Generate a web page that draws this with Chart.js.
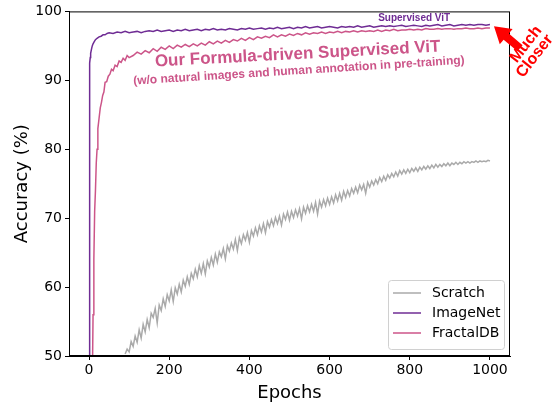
<!DOCTYPE html>
<html>
<head>
<meta charset="utf-8">
<script src="https://cdn.jsdelivr.net/npm/chart.js@4.4.1/dist/chart.umd.min.js"></script>
<style>
  body { margin: 0; background: #fff; }
  #wrap { width: 554px; height: 406px; }
</style>
</head>
<body>
<div id="wrap"><canvas id="accChart" width="554" height="406"></canvas></div>
<script>
// ---- data ----
const xTicks = [0, 200, 400, 600, 800, 1000];
const yTicks = [50, 60, 70, 80, 90, 100];

function range(start, end, step) {
    const out = [];
    for (let v = start; v <= end; v += step) out.push(v);
    return out;
}

// Scratch: epochs 90..1000 every 5
const scratchEpochs = range(90, 1000, 5);
const scratchAcc = [
    50.3, 51.0, 50.6, 52.1, 51.4, 52.9, 52.0, 53.8, 52.6, 54.6,
    53.5, 55.3, 54.1, 56.2, 55.6, 56.9, 54.8, 57.4, 56.6, 58.3,
    57.2, 58.9, 58.0, 59.6, 57.9, 59.9, 59.0, 60.4, 59.3, 61.0,
    60.1, 61.5, 60.4, 62.0, 61.2, 62.6, 61.5, 63.1, 62.0, 63.4,
    61.9, 63.8, 62.9, 64.3, 63.2, 64.8, 63.6, 65.1, 64.4, 65.6,
    64.1, 66.0, 65.2, 66.4, 65.5, 66.9, 65.3, 67.2, 66.3, 67.6,
    66.8, 67.9, 66.5, 68.2, 67.4, 68.6, 67.6, 68.9, 68.0, 69.2,
    67.9, 69.5, 68.7, 69.8, 68.9, 70.1, 69.2, 70.3, 69.0, 70.6,
    69.8, 70.9, 69.7, 71.0, 70.1, 71.2, 70.3, 71.4, 69.9, 71.6,
    70.7, 71.8, 70.9, 72.0, 71.0, 72.3, 70.6, 72.5, 71.6, 72.7,
    71.8, 72.9, 72.0, 73.1, 72.2, 73.4, 72.5, 73.6, 72.6, 73.9,
    73.0, 74.0, 73.2, 74.3, 73.6, 74.5, 73.7, 74.8, 74.1, 74.9,
    73.6, 75.2, 74.5, 75.4, 74.8, 75.6, 75.0, 75.9, 75.3, 76.1,
    75.5, 76.3, 75.8, 76.5, 76.0, 76.7, 76.1, 76.9, 76.4, 77.0,
    76.5, 77.1, 76.6, 77.2, 76.8, 77.3, 76.8, 77.4, 77.0, 77.5,
    77.1, 77.6, 77.2, 77.7, 77.3, 77.8, 77.4, 77.8, 77.5, 77.9,
    77.6, 78.0, 77.6, 78.0, 77.8, 78.1, 77.8, 78.1, 77.9, 78.2,
    78.0, 78.2, 78.0, 78.2, 78.1, 78.3, 78.1, 78.3, 78.2, 78.3,
    78.2, 78.4, 78.3
];

// ImageNet pre-training: fast start, then every 10 epochs
const imagenetEpochs = [0, 1, 2, 3, 4, 6, 8, 10, 13, 16, 20, 25, 30, 35, 40, 45].concat(range(50, 1000, 10));
const imagenetAcc = [
    40.0, 85.0, 92.5, 93.3, 93.9, 94.5, 95.0, 95.3, 95.6, 95.9, 96.1, 96.3, 96.4, 96.6, 96.6, 96.8,
    96.9, 96.8, 97.0, 96.9, 97.1, 96.9, 97.0, 97.1, 96.9, 97.1,
    97.2, 97.1, 97.3, 97.1, 97.2, 97.3, 97.1, 97.3, 97.2, 97.4,
    97.2, 97.3, 97.4, 97.2, 97.4, 97.3, 97.5, 97.3, 97.4, 97.3,
    97.5, 97.4, 97.3, 97.5, 97.4, 97.6, 97.4, 97.5, 97.6, 97.4,
    97.6, 97.5, 97.7, 97.5, 97.6, 97.7, 97.5, 97.7, 97.6, 97.8,
    97.6, 97.7, 97.8, 97.6, 97.7, 97.8, 97.7, 97.6, 97.8, 97.7,
    97.8, 97.7, 97.9, 97.7, 97.8, 97.9, 97.7, 97.8, 97.9, 97.8,
    97.9, 97.8, 97.9, 98.0, 97.8, 97.9, 98.0, 97.9, 97.8, 98.0,
    97.9, 98.0, 98.1, 97.9, 98.0, 98.1, 97.9, 98.0, 98.1, 98.0,
    98.1, 98.0, 98.1, 98.1, 98.0, 98.1
];

// FractalDB pre-training
const fractalEpochs = [8, 10, 12, 14, 16, 18, 20, 22, 25, 28, 31, 34, 37, 40, 44, 48, 52, 56, 60, 65, 70, 75, 80, 85, 90, 95, 100].concat(range(110, 1000, 10));
const fractalAcc = [
    45.0, 56.0, 64.0, 71.0, 74.0, 78.0, 80.0, 83.0, 84.5, 86.0, 86.8, 87.8, 88.3, 89.7, 89.8,
    90.6, 90.9, 91.6, 91.4, 92.2, 92.0, 92.8, 92.6, 93.2, 92.9, 93.6, 93.3,
    93.6, 94.1, 93.8, 94.3, 94.0, 94.6, 94.2, 94.8, 94.5, 95.0,
    94.6, 95.1, 94.8, 95.2, 94.9, 95.3, 95.0, 95.4, 95.1, 95.6,
    95.3, 95.7, 95.4, 95.8, 95.5, 95.9, 95.7, 96.1, 95.8, 96.2,
    95.9, 96.3, 96.1, 96.4, 96.2, 96.6, 96.3, 96.6, 96.4, 96.7,
    96.5, 96.8, 96.6, 96.9, 96.7, 96.9, 96.8, 97.0, 96.8, 97.0,
    96.9, 97.1, 96.9, 97.1, 97.0, 97.2, 97.0, 97.2, 97.1, 97.2,
    97.1, 97.3, 97.1, 97.3, 97.2, 97.4, 97.2, 97.3, 97.3, 97.4,
    97.3, 97.4, 97.3, 97.5, 97.4, 97.4, 97.5, 97.4, 97.5, 97.5,
    97.4, 97.5, 97.5, 97.6, 97.5, 97.5, 97.6, 97.5, 97.6, 97.6
];

const GRAY = '#aaaaaa';
const PURPLE = '#6f2c94';
const PINK = '#cc5589';
const TICK_FONT = { family: 'DejaVu Sans', size: 14 };

const toPoints = (xs, ys) => xs.map((x, i) => ({ x: x, y: ys[i] }));

// box round the axes + legend in the lower right
const framePlugin = {
    id: 'frame',
    afterDatasetsDraw(chart) {
        const { ctx, chartArea: a } = chart;
        ctx.save();
        ctx.strokeStyle = '#000';
        ctx.lineWidth = 1;
        ctx.strokeRect(a.left + 0.5, a.top + 0.5, a.right - a.left - 1, a.bottom - a.top - 1);

        // legend
        const w = 116, h = 69;
        const bx = a.right - 6 - w, by = a.bottom - 7 - h;
        ctx.fillStyle = 'rgba(255,255,255,0.8)';
        ctx.strokeStyle = '#d0d0d0';
        ctx.beginPath();
        ctx.roundRect(bx + 0.5, by + 0.5, w, h, 3);
        ctx.fill();
        ctx.stroke();
        ctx.font = '14px "DejaVu Sans"';
        ctx.textBaseline = 'middle';
        chart.data.datasets.forEach((ds, i) => {
            const y = by + 13 + i * 20;
            ctx.strokeStyle = ds.borderColor;
            ctx.lineWidth = 1.5;
            ctx.beginPath();
            ctx.moveTo(bx + 5, y);
            ctx.lineTo(bx + 33, y);
            ctx.stroke();
            ctx.fillStyle = '#000';
            ctx.fillText(ds.label, bx + 44, y);
        });
        ctx.restore();
    }
};

// text notes and the red arrow, placed in data coordinates
const notesPlugin = {
    id: 'notes',
    afterDraw(chart) {
        const { ctx } = chart;
        const px = v => chart.scales.x.getPixelForValue(v);
        const py = v => chart.scales.y.getPixelForValue(v);

        function note(text, x, y, font, color, angle, baseline) {
            ctx.save();
            ctx.translate(px(x), py(y));
            ctx.rotate(angle * Math.PI / 180);
            ctx.font = font;
            ctx.fillStyle = color;
            ctx.textAlign = 'center';
            ctx.textBaseline = baseline || 'alphabetic';
            ctx.fillText(text, 0, 0);
            ctx.restore();
        }

        note('Supervised ViT', 811, 98.55, 'bold 10px "Liberation Sans"', PURPLE, 0);
        note('Our Formula-driven Supervised ViT', 521, 93.1, 'bold 17px "Liberation Sans"', PINK, -3);
        note('(w/o natural images and human annotation in pre-training)', 524, 90.9, 'bold 12px "Liberation Sans"', PINK, -3.6);

        // arrow
        const tx = px(1010), ty = py(97.83);
        const sx = px(1075), sy = py(94.65);
        const ang = Math.atan2(ty - sy, tx - sx);
        const len = Math.hypot(tx - sx, ty - sy);
        ctx.save();
        ctx.translate(sx, sy);
        ctx.rotate(ang);
        ctx.fillStyle = '#ff0000';
        ctx.beginPath();
        ctx.moveTo(0, -4);
        ctx.lineTo(len - 16, -4);
        ctx.lineTo(len - 16, -10);
        ctx.lineTo(len, 0);
        ctx.lineTo(len - 16, 10);
        ctx.lineTo(len - 16, 4);
        ctx.lineTo(0, 4);
        ctx.closePath();
        ctx.fill();
        ctx.restore();

        note('Much', 1090, 95.23, 'bold 16px "Liberation Sans"', '#ff0000', -52, 'middle');
        note('Closer', 1112, 93.5, 'bold 16px "Liberation Sans"', '#ff0000', -52, 'middle');
    }
};

new Chart(document.getElementById('accChart'), {
    type: 'line',
    data: {
        datasets: [
            { label: 'Scratch', data: toPoints(scratchEpochs, scratchAcc), borderColor: GRAY, order: 3 },
            { label: 'ImageNet', data: toPoints(imagenetEpochs, imagenetAcc), borderColor: PURPLE, order: 2 },
            { label: 'FractalDB', data: toPoints(fractalEpochs, fractalAcc), borderColor: PINK, order: 1 }
        ]
    },
    options: {
        responsive: false,
        animation: false,
        layout: { padding: { top: 10, right: 44, left: 0, bottom: 0 } },
        elements: {
            line: { borderWidth: 1.5, tension: 0, fill: false },
            point: { radius: 0 }
        },
        plugins: {
            legend: { display: false },
            tooltip: { enabled: false }
        },
        scales: {
            x: {
                type: 'linear',
                min: -50,
                max: 1050,
                afterBuildTicks: s => { s.ticks = xTicks.map(v => ({ value: v })); },
                afterFit: s => { s.height = 50; },
                grid: { drawOnChartArea: false, drawTicks: true, tickLength: 4, color: '#000' },
                border: { display: true, color: '#000' },
                ticks: { font: TICK_FONT, color: '#000', padding: 2, maxRotation: 0, callback: v => String(v) },
                title: { display: true, text: 'Epochs', font: { family: 'DejaVu Sans', size: 18 }, color: '#000', padding: { top: 0, bottom: 2 } }
            },
            y: {
                type: 'linear',
                min: 50,
                max: 100,
                afterBuildTicks: s => { s.ticks = yTicks.map(v => ({ value: v })); },
                afterFit: s => { s.width = 69; },
                grid: { drawOnChartArea: false, drawTicks: true, tickLength: 4, color: '#000' },
                border: { display: true, color: '#000' },
                ticks: { font: TICK_FONT, color: '#000', padding: 3, callback: v => String(v) },
                title: { display: true, text: 'Accuracy (%)', font: { family: 'DejaVu Sans', size: 18 }, color: '#000', padding: { top: 12, bottom: 0 } }
            }
        }
    },
    plugins: [framePlugin, notesPlugin]
});
</script>
</body>
</html>
